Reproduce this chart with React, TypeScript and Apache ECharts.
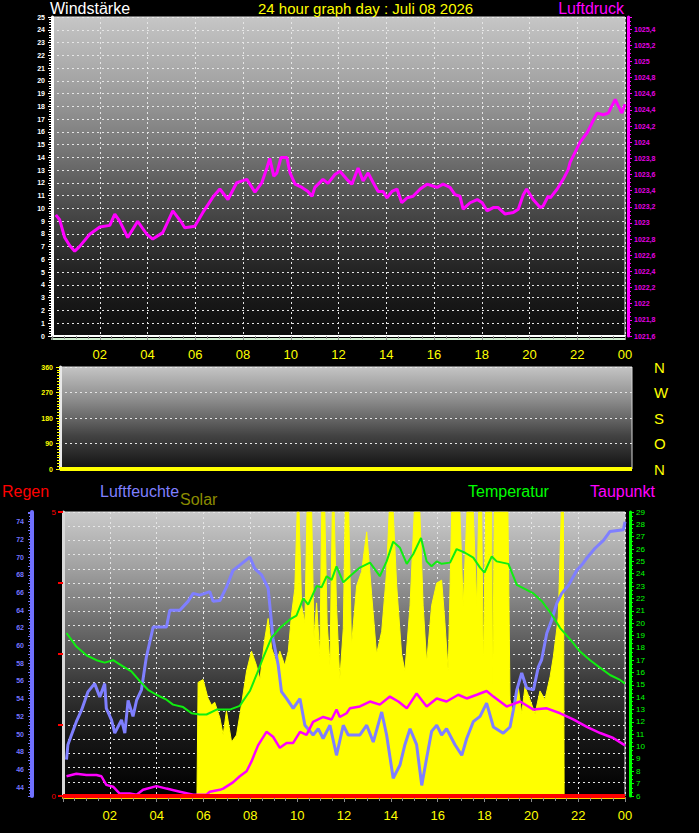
import React, { useEffect, useRef } from 'react';
import * as echarts from 'echarts';

// ---------- data (hour of day, value) ----------
const xTickLabels = ['02', '04', '06', '08', '10', '12', '14', '16', '18', '20', '22', '00'];

const pressure: number[][] = [
  [0.16, 1023.1], [0.32, 1023.04], [0.53, 1022.82], [0.74, 1022.72], [0.95, 1022.65], [1.16, 1022.71],
  [1.58, 1022.86], [2.0, 1022.95], [2.42, 1022.97], [2.63, 1023.11], [2.84, 1023.02], [3.17, 1022.82],
  [3.59, 1023.02], [3.97, 1022.86], [4.22, 1022.8], [4.64, 1022.88], [5.06, 1023.15], [5.44, 1023.0],
  [5.56, 1022.94], [5.98, 1022.96], [6.32, 1023.13], [6.74, 1023.32], [7.03, 1023.42], [7.37, 1023.29],
  [7.74, 1023.5], [8.16, 1023.54], [8.5, 1023.38], [8.79, 1023.5], [9.0, 1023.68], [9.12, 1023.8],
  [9.29, 1023.58], [9.42, 1023.62], [9.59, 1023.81], [9.84, 1023.81], [9.97, 1023.62], [10.18, 1023.48],
  [10.47, 1023.44], [10.72, 1023.39], [10.89, 1023.33], [11.01, 1023.44], [11.35, 1023.54], [11.56, 1023.49],
  [11.85, 1023.6], [12.06, 1023.64], [12.35, 1023.54], [12.56, 1023.48], [12.82, 1023.68], [13.03, 1023.52],
  [13.24, 1023.62], [13.45, 1023.5], [13.66, 1023.39], [13.87, 1023.39], [14.03, 1023.31], [14.24, 1023.39],
  [14.45, 1023.42], [14.65, 1023.25], [14.87, 1023.31], [15.12, 1023.33], [15.42, 1023.42], [15.71, 1023.48],
  [15.92, 1023.46], [16.13, 1023.44], [16.38, 1023.48], [16.67, 1023.44], [16.88, 1023.35], [17.09, 1023.33],
  [17.22, 1023.17], [17.51, 1023.25], [17.81, 1023.29], [18.02, 1023.25], [18.22, 1023.15], [18.48, 1023.19],
  [18.69, 1023.19], [18.98, 1023.11], [19.32, 1023.13], [19.53, 1023.17], [19.74, 1023.35], [19.88, 1023.42],
  [20.15, 1023.29], [20.45, 1023.19], [20.57, 1023.21], [20.78, 1023.33], [20.87, 1023.31], [21.16, 1023.42],
  [21.41, 1023.54], [21.62, 1023.66], [21.7, 1023.75], [22.12, 1024.0], [22.42, 1024.12], [22.62, 1024.24],
  [22.83, 1024.36], [23.09, 1024.34], [23.3, 1024.36], [23.59, 1024.53], [23.72, 1024.45], [23.87, 1024.36],
  [24.0, 1024.47],
];

const windDirection: number[][] = [[0, 0], [24, 0]];
const rain: number[][] = [[0, 0], [24, 0]];

const temperature: number[][] = [
  [0.15, 19.2], [0.57, 18.1], [1.0, 17.4], [1.43, 17.0], [1.78, 16.8], [2.14, 17.0], [2.56, 16.5], [2.92, 16.1],
  [3.28, 15.3], [3.63, 14.6], [3.99, 14.2], [4.42, 13.8], [4.7, 13.4], [5.13, 13.2], [5.49, 12.7], [5.84, 12.6],
  [6.13, 12.6], [6.56, 13.0], [7.12, 13.0], [7.55, 13.3], [7.69, 13.7], [7.98, 14.5], [8.26, 15.8], [8.55, 17.2],
  [8.9, 18.8], [9.26, 19.6], [9.69, 20.3], [9.97, 20.6], [10.26, 22.0], [10.47, 21.5], [10.83, 23.0], [11.04, 22.9],
  [11.26, 23.8], [11.47, 23.5], [11.68, 24.6], [11.97, 23.3], [12.25, 23.8], [12.68, 24.5], [13.11, 24.9],
  [13.53, 23.8], [13.82, 25.0], [14.1, 26.6], [14.39, 26.1], [14.68, 24.8], [14.96, 25.6], [15.29, 26.9],
  [15.53, 25.0], [15.74, 24.6], [15.96, 25.0], [16.17, 24.8], [16.53, 24.9], [16.81, 26.0], [17.17, 25.7],
  [17.52, 25.3], [17.81, 24.5], [18.0, 24.1], [18.31, 25.4], [18.52, 25.0], [19.02, 24.8], [19.38, 23.1],
  [19.8, 22.7], [20.09, 22.4], [20.44, 21.8], [20.87, 20.7], [21.23, 19.6], [21.65, 18.7], [22.08, 17.7],
  [22.51, 17.0], [22.93, 16.4], [23.36, 15.8], [23.79, 15.4], [24.0, 15.1],
];

const dewPoint: number[][] = [
  [0.15, 7.6], [0.57, 7.8], [1.0, 7.7], [1.43, 7.7], [1.64, 7.6], [1.85, 6.9], [2.14, 6.75], [2.42, 6.2],
  [2.85, 6.2], [3.14, 6.1], [3.42, 6.5], [3.99, 6.8], [4.42, 6.6], [4.99, 6.35], [5.56, 6.1], [6.13, 6.1],
  [6.27, 6.35], [6.7, 6.5], [6.84, 6.6], [7.26, 7.1], [7.55, 7.6], [7.84, 8.0], [8.05, 8.8], [8.33, 10.1],
  [8.69, 11.2], [8.97, 10.8], [9.26, 9.9], [9.55, 10.3], [9.83, 10.3], [10.12, 11.2], [10.4, 10.95],
  [10.68, 12.0], [11.11, 12.4], [11.47, 12.2], [11.68, 13.0], [11.82, 12.4], [12.11, 12.7], [12.25, 13.1],
  [12.68, 13.25], [13.11, 13.65], [13.53, 13.4], [13.96, 14.05], [14.32, 13.65], [14.68, 13.1], [15.1, 14.3],
  [15.53, 13.25], [15.96, 13.9], [16.38, 13.65], [16.88, 14.2], [17.24, 13.9], [17.67, 14.2], [18.09, 14.5],
  [18.38, 14.05], [18.95, 13.25], [19.52, 13.65], [20.09, 13.0], [20.66, 13.1], [21.23, 12.7], [21.79, 12.2],
  [22.37, 11.6], [22.94, 11.1], [23.5, 10.7], [24.0, 10.1],
];

const humidity: number[][] = [
  [0.15, 47.1], [0.21, 48.8], [0.36, 49.9], [0.57, 51.4], [0.79, 52.7], [1.07, 54.8], [1.35, 55.7], [1.57, 54.2],
  [1.78, 55.7], [1.85, 52.9], [2.07, 51.6], [2.21, 50.1], [2.5, 51.6], [2.64, 50.1], [2.78, 53.8], [2.99, 52.0],
  [3.14, 53.8], [3.35, 55.0], [3.56, 58.7], [3.85, 62.1], [4.42, 62.1], [4.56, 64.0], [4.99, 64.0], [5.34, 65.0],
  [5.56, 65.9], [5.84, 65.7], [6.27, 66.1], [6.41, 65.0], [6.7, 65.1], [6.98, 66.6], [7.26, 68.5], [7.55, 69.1],
  [7.98, 70.0], [8.19, 68.7], [8.48, 68.0], [8.76, 66.5], [8.97, 60.8], [9.19, 57.8], [9.33, 54.8], [9.55, 54.0],
  [9.83, 52.9], [10.12, 54.0], [10.33, 51.0], [10.68, 49.9], [10.9, 50.6], [11.11, 49.5], [11.4, 51.0],
  [11.68, 47.6], [11.97, 51.0], [12.18, 49.9], [12.39, 49.9], [12.68, 49.9], [12.97, 51.0], [13.25, 49.1],
  [13.61, 52.5], [13.82, 49.9], [14.1, 45.0], [14.39, 46.5], [14.6, 48.8], [14.82, 50.6], [15.1, 48.8],
  [15.32, 44.2], [15.53, 47.3], [15.74, 50.3], [15.96, 51.0], [16.17, 49.9], [16.38, 50.6], [16.74, 48.8],
  [17.03, 47.6], [17.24, 49.5], [17.52, 51.4], [17.81, 52.0], [18.09, 53.5], [18.38, 50.8], [18.8, 50.1],
  [19.09, 50.8], [19.23, 52.7], [19.38, 55.0], [19.59, 56.9], [19.8, 55.2], [20.09, 55.0], [20.3, 57.6],
  [20.44, 58.4], [20.66, 61.4], [20.87, 62.9], [21.09, 64.8], [21.3, 65.9], [21.58, 66.8], [21.94, 68.5],
  [22.15, 69.1], [22.37, 69.9], [22.72, 71.0], [23.08, 71.9], [23.36, 72.9], [23.93, 73.1], [24.0, 74.0],
];

const solar: number[][] = [
  [0, 0], [5.72, 0], [5.77, 400], [5.98, 410], [6.19, 345], [6.34, 320], [6.48, 330], [6.7, 275], [6.84, 215],
  [6.98, 300], [7.2, 190], [7.41, 215], [7.62, 320], [7.84, 440], [8.05, 510], [8.26, 460], [8.41, 410],
  [8.62, 555], [8.76, 625], [8.91, 520], [9.12, 470], [9.26, 510], [9.47, 460], [9.62, 510], [9.76, 640],
  [9.9, 730], [10.0, 1000], [10.08, 1000], [10.19, 670], [10.33, 610], [10.42, 1000], [10.62, 1000],
  [10.72, 555], [10.83, 680], [10.97, 490], [11.05, 1000], [11.18, 1000], [11.28, 610], [11.4, 460],
  [11.5, 1000], [11.58, 1000], [11.68, 670], [11.82, 410], [11.97, 590], [12.05, 1000], [12.2, 1000],
  [12.32, 530], [12.54, 740], [12.75, 790], [12.97, 930], [13.18, 710], [13.39, 500], [13.61, 580],
  [13.82, 790], [13.93, 1000], [14.1, 1000], [14.25, 740], [14.46, 500], [14.6, 440], [14.82, 670],
  [15.0, 1000], [15.24, 1000], [15.38, 670], [15.53, 470], [15.74, 670], [15.96, 750], [16.17, 760],
  [16.31, 610], [16.45, 440], [16.6, 1000], [16.95, 1000], [17.09, 670], [17.25, 1000], [17.52, 1000],
  [17.67, 670], [17.75, 1000], [17.88, 1000], [17.95, 440], [18.05, 1000], [18.3, 1000], [18.35, 370],
  [18.42, 1000], [19.0, 1000], [19.09, 340], [19.23, 290], [19.44, 385], [19.59, 290], [19.73, 385],
  [19.94, 340], [20.16, 290], [20.37, 370], [20.58, 340], [20.8, 420], [20.94, 490], [21.15, 630],
  [21.28, 1000], [21.37, 1000], [21.4, 0], [24, 0],
];

const directionLetters: Record<number, string> = { 0: 'N', 90: 'O', 180: 'S', 270: 'W', 360: 'N' };

const FONT = 'Liberation Sans';

function bgGradient(stops: string[]) {
  return new echarts.graphic.LinearGradient(0, 0, 0, 1,
    stops.map((c, i) => ({ offset: i / (stops.length - 1), color: c })));
}

const dotted = { show: true, lineStyle: { color: '#e6e6e6', width: 1, type: [2, 3] as any } };

function hourLabel(v: number) {
  if (v === 0) return '';
  const idx = Math.round(v / 2) - 1;
  return xTickLabels[idx] ?? '';
}

export default function App() {
  const ref = useRef<HTMLDivElement>(null);

  useEffect(() => {
    document.body.style.margin = '0';
    document.body.style.background = '#000';
    if (!ref.current) return;
    const chart = echarts.init(ref.current, undefined, { renderer: 'svg' });

    const titleStyle = (color: string, size: number) => ({
      color, fontSize: size, fontWeight: 'normal' as const, fontFamily: FONT,
    });

    const yLine = (color: string, width: number) => ({ show: true, onZero: false, lineStyle: { color, width } });

    const option: any = {
      animation: false,
      backgroundColor: '#000',
      textStyle: { fontFamily: FONT },
      title: [
        { text: 'Windstärke', left: 50, top: 0, padding: 0, textStyle: titleStyle('#ffffff', 16) },
        { text: '24 hour graph day : Juli 08 2026', left: 258, top: 1, padding: 0, textStyle: titleStyle('#ffff00', 15) },
        { text: 'Luftdruck', right: 75, top: 0, padding: 0, textStyle: titleStyle('#ff00ff', 16) },
        { text: 'Regen', left: 2, top: 483, padding: 0, textStyle: titleStyle('#ff0000', 16) },
        { text: 'Luftfeuchte', left: 100, top: 483, padding: 0, textStyle: titleStyle('#7f7fff', 16) },
        { text: 'Solar', left: 180, top: 491, padding: 0, textStyle: titleStyle('#8c8c00', 16) },
        { text: 'Temperatur', left: 468, top: 483, padding: 0, textStyle: titleStyle('#00ff00', 16) },
        { text: 'Taupunkt', left: 590, top: 483, padding: 0, textStyle: titleStyle('#ff00ff', 16) },
      ],
      grid: [
        {
          left: 52, top: 17, width: 573, height: 319, show: true,
          backgroundColor: bgGradient(['#c6c6c6', '#a4a4a4', '#7a7a7a', '#4a4a4a', '#222222', '#0c0c0c']),
          borderColor: '#d8d8d8', borderWidth: 1,
        },
        {
          left: 60, top: 367, width: 572, height: 102, show: true,
          backgroundColor: bgGradient(['#c4c4c4', '#8a8a8a', '#444444', '#121212']),
          borderColor: '#d8d8d8', borderWidth: 1,
        },
        {
          left: 63, top: 512, width: 562, height: 284, show: true,
          backgroundColor: bgGradient(['#cacaca', '#a0a0a0', '#6c6c6c', '#3a3a3a', '#161616', '#000000']),
          borderColor: '#d8d8d8', borderWidth: 1,
        },
      ],
      xAxis: [
        {
          type: 'value', gridIndex: 0, min: 0, max: 24, interval: 2,
          axisLine: { show: true, onZero: false, lineStyle: { color: '#ffffff', width: 2 } },
          axisTick: { show: true, length: 4, lineStyle: { color: '#8c8c8c' } },
          minorTick: { show: true, splitNumber: 4, length: 3, lineStyle: { color: '#8c8c8c' } },
          axisLabel: { color: '#ffff00', fontSize: 13, margin: 12, formatter: hourLabel },
          splitLine: dotted,
        },
        {
          type: 'value', gridIndex: 0, min: 0, max: 24, position: 'bottom', offset: 3,
          axisLine: { show: true, onZero: false, lineStyle: { color: '#cdeccd', width: 2 } },
          axisTick: { show: false }, axisLabel: { show: false }, splitLine: { show: false },
        },
        {
          type: 'value', gridIndex: 1, min: 0, max: 24, interval: 2,
          axisLine: { show: false, onZero: false }, axisTick: { show: false }, axisLabel: { show: false },
          splitLine: { show: false },
        },
        {
          type: 'value', gridIndex: 2, min: 0, max: 24, interval: 2, offset: 2,
          axisLine: { show: true, onZero: false, lineStyle: { color: '#ffd200', width: 2 } },
          axisTick: { show: true, length: 4, lineStyle: { color: '#8c8c8c' } },
          minorTick: { show: true, splitNumber: 4, length: 3, lineStyle: { color: '#8c8c8c' } },
          axisLabel: { color: '#ffff00', fontSize: 13, margin: 11, formatter: hourLabel },
          splitLine: dotted,
        },
      ],
      yAxis: [
        {
          type: 'value', gridIndex: 0, position: 'left', min: 0, max: 25, interval: 1,
          axisLine: yLine('#ffffff', 3),
          axisTick: { show: true, length: 4, lineStyle: { color: '#ffffff' } },
          minorTick: { show: true, splitNumber: 5, length: 3, lineStyle: { color: '#ffffff' } },
          axisLabel: { color: '#ffffff', fontSize: 7, fontWeight: 'bold', margin: 7 },
          splitLine: dotted,
        },
        {
          type: 'value', gridIndex: 0, position: 'right', offset: 3, min: 1021.6, max: 1025.55, interval: 0.2,
          axisLine: yLine('#ff00ff', 3),
          axisTick: { show: true, length: 4, lineStyle: { color: '#ff00ff' } },
          minorTick: { show: true, splitNumber: 4, length: 3, lineStyle: { color: '#ff00ff' } },
          axisLabel: {
            color: '#e400e4', fontSize: 7, fontWeight: 'bold', margin: 6, showMaxLabel: false,
            formatter: (v: number) => String(Number(v.toFixed(1))).replace('.', ','),
          },
          splitLine: { show: false },
        },
        {
          type: 'value', gridIndex: 1, position: 'left', min: 0, max: 360, interval: 90,
          axisLine: yLine('#e8e8e8', 3),
          axisTick: { show: true, length: 4, lineStyle: { color: '#ffff00' } },
          minorTick: { show: true, splitNumber: 9, length: 3, lineStyle: { color: '#ffff00' } },
          axisLabel: { color: '#ffff00', fontSize: 7, fontWeight: 'bold', margin: 7 },
          splitLine: dotted,
        },
        {
          type: 'value', gridIndex: 1, position: 'right', min: 0, max: 360, interval: 90,
          axisLine: { show: false, onZero: false }, axisTick: { show: false }, splitLine: { show: false },
          axisLabel: {
            color: '#ffff00', fontSize: 15, margin: 22,
            formatter: (v: number) => directionLetters[v] ?? '',
          },
        },
        {
          type: 'value', gridIndex: 2, position: 'left', min: 0, max: 5, interval: 1.25,
          axisLine: yLine('#d8d8d8', 3),
          axisTick: { show: true, length: 5, lineStyle: { color: '#ff0000', width: 2 } },
          axisLabel: {
            color: '#ff0000', fontSize: 8, margin: 7,
            formatter: (v: number) => (v === 0 ? '0' : v === 5 ? '5' : ''),
          },
          splitLine: { show: false },
        },
        {
          type: 'value', gridIndex: 2, position: 'left', offset: 31, min: 43, max: 75.1, interval: 1,
          axisLine: yLine('#7070ff', 4),
          axisTick: { show: true, length: 4, lineStyle: { color: '#7070ff' } },
          minorTick: { show: true, splitNumber: 3, length: 3, lineStyle: { color: '#7070ff' } },
          axisLabel: {
            color: '#7474ff', fontSize: 7, fontWeight: 'bold', margin: 8, showMaxLabel: false,
            formatter: (v: number) => {
              const r = Math.round(v);
              return Math.abs(v - r) < 1e-6 && r % 2 === 0 ? String(r) : '';
            },
          },
          splitLine: { show: false },
        },
        {
          type: 'value', gridIndex: 2, position: 'right', offset: 5, min: 6, max: 29, interval: 1,
          axisLine: yLine('#00ff00', 3),
          axisTick: { show: true, length: 4, lineStyle: { color: '#00ff00' } },
          minorTick: { show: true, splitNumber: 3, length: 3, lineStyle: { color: '#00ff00' } },
          axisLabel: { color: '#00ff00', fontSize: 8, margin: 6 },
          splitLine: { show: false },
        },
        {
          type: 'value', gridIndex: 2, position: 'right', min: 0, max: 1000, interval: 50,
          axisLine: { show: false, onZero: false }, axisTick: { show: false }, axisLabel: { show: false },
          splitLine: dotted,
        },
      ],
      series: [
        {
          name: 'Luftdruck', type: 'line', xAxisIndex: 0, yAxisIndex: 1, data: pressure,
          showSymbol: false, lineStyle: { color: '#ff00ff', width: 3 }, z: 5,
        },
        {
          name: 'Windrichtung', type: 'line', xAxisIndex: 2, yAxisIndex: 2, data: windDirection,
          showSymbol: false, lineStyle: { color: '#ffff00', width: 4 }, z: 5,
        },
        {
          name: 'Solar', type: 'line', xAxisIndex: 3, yAxisIndex: 7, data: solar,
          showSymbol: false, clip: true,
          lineStyle: { color: '#ffff00', width: 1 },
          areaStyle: { color: '#ffff00', opacity: 1 }, z: 2,
        },
        {
          name: 'Luftfeuchte', type: 'line', xAxisIndex: 3, yAxisIndex: 5, data: humidity,
          showSymbol: false, lineStyle: { color: '#7f7fff', width: 3 }, z: 4,
        },
        {
          name: 'Temperatur', type: 'line', xAxisIndex: 3, yAxisIndex: 6, data: temperature,
          showSymbol: false, lineStyle: { color: '#10ee10', width: 2 }, z: 4,
        },
        {
          name: 'Taupunkt', type: 'line', xAxisIndex: 3, yAxisIndex: 6, data: dewPoint,
          showSymbol: false, lineStyle: { color: '#ff00ff', width: 2.5 }, z: 4,
        },
        {
          name: 'Regen', type: 'line', xAxisIndex: 3, yAxisIndex: 4, data: rain,
          showSymbol: false, clip: false, lineStyle: { color: '#ff0000', width: 4 }, z: 6,
        },
      ],
    };

    chart.setOption(option);
    return () => chart.dispose();
  }, []);

  return <div ref={ref} style={{ width: 699, height: 833, background: '#000' }} />;
}
